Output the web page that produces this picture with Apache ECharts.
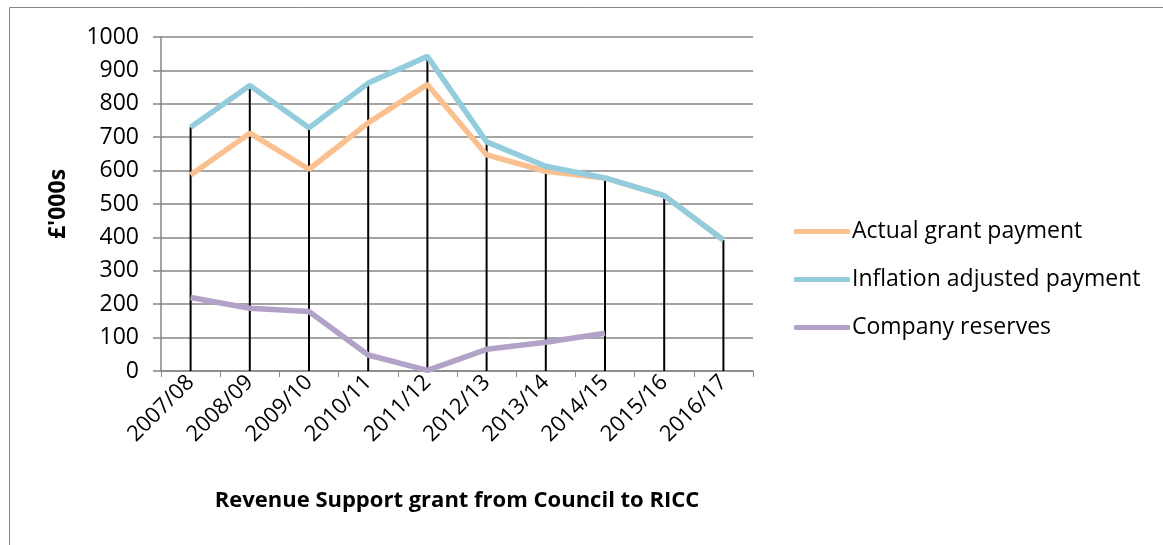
<!DOCTYPE html>
<html>
<head>
<meta charset="utf-8">
<script src="https://cdn.jsdelivr.net/npm/echarts@6/dist/echarts.min.js"></script>
<style>
	html, body { margin: 0; padding: 0; background: #fff; }
	#chart { width: 1163px; height: 545px; }
</style>
</head>
<body>
<div id="chart"></div>
<script>
var years = ['2007/08', '2008/09', '2009/10', '2010/11', '2011/12', '2012/13', '2013/14', '2014/15', '2015/16', '2016/17'];
var actualGrant = [587, 712, 604, 743, 858, 647, 598, 578, 525, 392];
var inflationAdjusted = [730, 855, 728, 862, 942, 686, 613, 578, 525, 392];
var companyReserves = [220, 188, 178, 48, 2, 65, 86, 113, null, null];
var yTicks = { min: 0, max: 1000, interval: 100 };

// drop lines go from the highest point of each year down to 0
var dropLines = years.map(function(y, i) {
	return Math.max(actualGrant[i] || 0, inflationAdjusted[i] || 0, companyReserves[i] || 0);
});

var font = 'Open Sans';
var chart = echarts.init(document.getElementById('chart'));
chart.setOption({
	animation: false,
	textStyle: { fontFamily: font, color: '#000' },
	graphic: [{
		type: 'rect',
		shape: { x: 9.5, y: 7.5, width: 1160, height: 560 },
		style: { fill: 'none', stroke: '#868686', lineWidth: 1 }
	}],
	grid: { left: 161, right: 410, top: 37, bottom: 174 },
	legend: {
		orient: 'vertical',
		left: 789,
		top: 215,
		itemWidth: 56,
		itemHeight: 5,
		itemGap: 25,
		icon: 'roundRect',
		data: ['Actual grant payment', 'Inflation adjusted payment', 'Company reserves'],
		textStyle: { fontSize: 23, fontFamily: font, color: '#000', padding: [0, 0, 0, -3] }
	},
	xAxis: {
		type: 'category',
		data: years,
		boundaryGap: true,
		name: 'Revenue Support grant from Council to RICC',
		nameLocation: 'middle',
		nameGap: 119,
		nameTextStyle: { fontSize: 22, fontWeight: 'bold', color: '#000', fontFamily: font },
		axisLine: { lineStyle: { color: '#868686', width: 1.5 } },
		axisTick: { show: true, length: 6, lineStyle: { color: '#868686' } },
		axisLabel: { rotate: 45, fontSize: 22, color: '#000', margin: 8, interval: 0 },
		splitLine: { show: false }
	},
	yAxis: {
		type: 'value',
		min: yTicks.min,
		max: yTicks.max,
		interval: yTicks.interval,
		name: "£'000s",
		nameLocation: 'middle',
		nameGap: 91,
		nameTextStyle: { fontSize: 23, fontWeight: 'bold', color: '#000', fontFamily: font },
		axisLine: { show: true, lineStyle: { color: '#868686', width: 1.5 } },
		axisTick: { show: true, length: 8, lineStyle: { color: '#868686', width: 1.5 } },
		axisLabel: {
			fontSize: 23,
			color: '#000',
			margin: 22,
			formatter: function(value) {
				return String(value);
			}
		},
		splitLine: { show: true, lineStyle: { color: '#868686', width: 1.5 } }
	},
	series: [{
			name: 'drop',
			type: 'bar',
			barWidth: 2,
			itemStyle: { color: '#000' },
			data: dropLines,
			z: 1
		},
		{
			name: 'Actual grant payment',
			type: 'line',
			showSymbol: false,
			symbol: 'none',
			lineStyle: { color: '#FAC090', width: 5.5 },
			itemStyle: { color: '#FAC090' },
			data: actualGrant,
			z: 3
		},
		{
			name: 'Inflation adjusted payment',
			type: 'line',
			showSymbol: false,
			symbol: 'none',
			lineStyle: { color: '#93CDDD', width: 5.5 },
			itemStyle: { color: '#93CDDD' },
			data: inflationAdjusted,
			z: 4
		},
		{
			name: 'Company reserves',
			type: 'line',
			showSymbol: false,
			symbol: 'none',
			lineStyle: { color: '#B3A2C7', width: 5.5 },
			itemStyle: { color: '#B3A2C7' },
			data: companyReserves,
			z: 5
		}
	]
});
</script>
</body>
</html>
